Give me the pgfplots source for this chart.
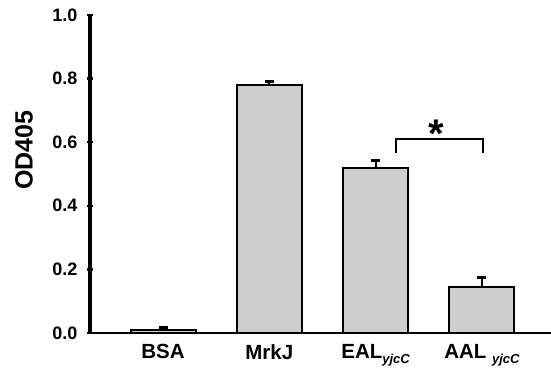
\documentclass[border=0pt]{standalone}
\usepackage{fontspec}
\setmainfont{Liberation Sans}
\usepackage{pgfplots}
\pgfplotsset{compat=1.18}
\definecolor{barfill}{RGB}{206,206,206}
\begin{document}
\begin{tikzpicture}
\begin{axis}[
  scale only axis,
  width=461pt, height=318pt,
  xmin=-0.687, xmax=3.65,
  ymin=0, ymax=1.0,
  axis lines*=left,
  axis line style={-},
  x axis line style={line width=1.6pt},
  y axis line style={line width=4pt},
  xtick=data,
  xticklabels={BSA, MrkJ, EAL\raisebox{-5pt}{\fontsize{13}{13}\selectfont\bfseries\itshape yjcC}, AAL \raisebox{-5pt}{\fontsize{13}{13}\selectfont\bfseries\itshape yjcC}},
  x tick style={draw=none},
  x tick label style={font=\fontsize{20.5}{20.5}\selectfont\bfseries, anchor=north, yshift=-5pt},
  ytick={0,0.2,0.4,0.6,0.8,1.0},
  y tick style={line width=2.5pt, black},
  major tick length=6pt,
  tick align=center,
  /pgf/number format/assume math mode=true,
  yticklabel style={font=\fontsize{18}{18}\selectfont\bfseries, /pgf/number format/fixed, /pgf/number format/fixed zerofill, /pgf/number format/precision=1, xshift=-6pt},
  ylabel={OD405},
  ylabel style={font=\fontsize{25}{25}\selectfont\bfseries, at={(axis description cs:0,0.575)}, anchor=center, yshift=66pt},
  clip=false,
]
\addplot[ybar, bar width=65pt, fill=barfill, draw=black, line width=2pt,
  error bars/.cd, y dir=plus, y explicit,
  error bar style={line width=2.2pt, black},
  error mark options={rotate=90, mark size=4.5pt, line width=2.5pt, black}]
  coordinates {
  (0,0.010) +- (0,0.008)
  (1,0.779) +- (0,0.012)
  (2,0.519) +- (0,0.024)
  (3,0.145) +- (0,0.030)
};
\draw[line width=2pt] (axis cs:2.19,0.566) -- (axis cs:2.19,0.610) -- (axis cs:3.01,0.610) -- (axis cs:3.01,0.566);
\node[font=\fontsize{40}{40}\selectfont\bfseries, anchor=base, inner sep=0pt] at (axis cs:2.57,0.584) {*};
\end{axis}
\pgfresetboundingbox
\path (-90pt,-41pt) rectangle (461pt,333pt);
\end{tikzpicture}
\end{document}
